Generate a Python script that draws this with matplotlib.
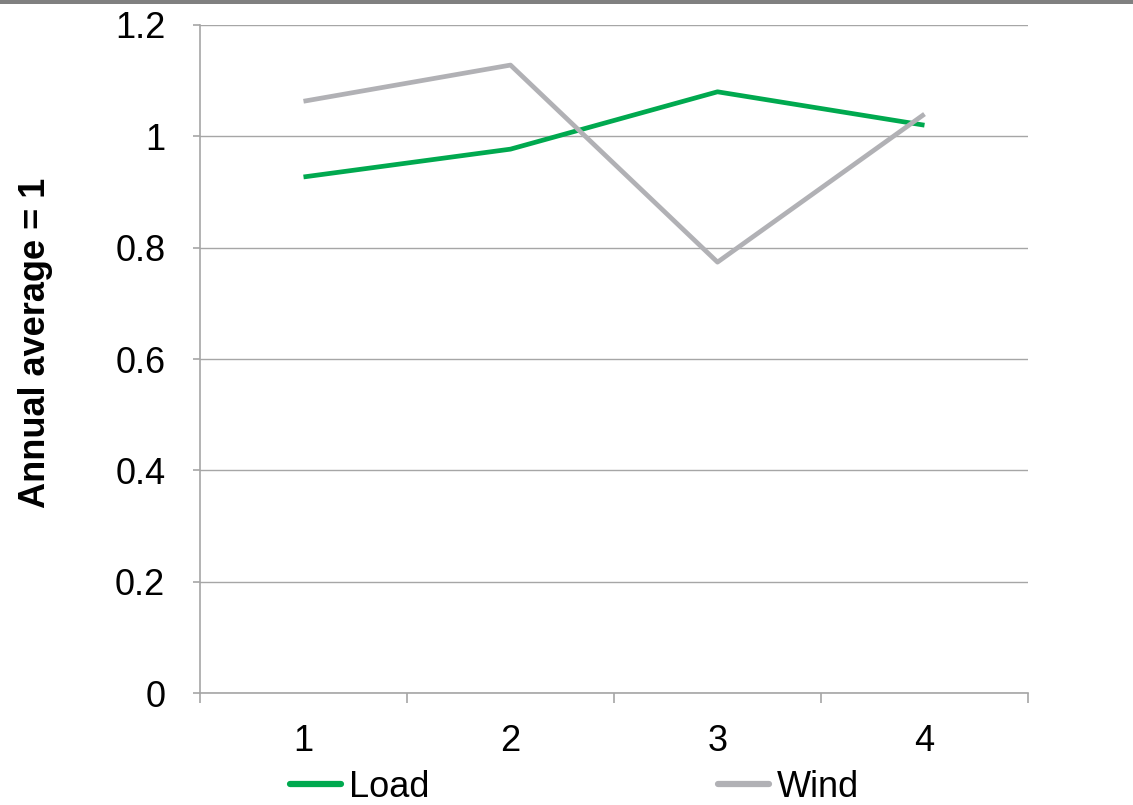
import matplotlib
matplotlib.use("Agg")
import matplotlib.pyplot as plt
from matplotlib.patches import Rectangle
from matplotlib.ticker import FixedLocator

categories = ["1", "2", "3", "4"]
load = [0.927, 0.977, 1.080, 1.020]
wind = [1.063, 1.128, 0.774, 1.040]
yticks = [0, 0.2, 0.4, 0.6, 0.8, 1.0, 1.2]
ytick_labels = ["0", "0.2", "0.4", "0.6", "0.8", "1", "1.2"]

plt.rcParams["font.family"] = ["Liberation Sans", "DejaVu Sans"]

W, H = 1133, 805
fig = plt.figure(figsize=(W / 100, H / 100), dpi=100)
fig.patches.append(Rectangle((0, 1 - 4 / H), 1, 4 / H, transform=fig.transFigure,
                             facecolor="#808080", edgecolor="none"))

ax = fig.add_axes([200 / W, (H - 693) / H, 828 / W, 668 / H])
x = list(range(1, len(categories) + 1))
ax.plot(x, load, color="#00A94F", lw=3.4, label="Load", solid_capstyle="butt")
ax.plot(x, wind, color="#B1B1B5", lw=3.4, label="Wind", solid_capstyle="butt")

ax.set_xlim(0.5, len(categories) + 0.5)
ax.set_ylim(0, 1.2)
ax.set_yticks(yticks)
ax.set_yticklabels(ytick_labels)
ax.set_xticks(x)
ax.set_xticklabels(categories)
ax.xaxis.set_minor_locator(FixedLocator([i + 0.5 for i in range(0, len(categories) + 1)]))

ax.grid(axis="y", color="#A6A6A6", lw=1)
ax.set_axisbelow(True)
for s in ["top", "right"]:
    ax.spines[s].set_visible(False)
for s in ["left", "bottom"]:
    ax.spines[s].set_color("#A6A6A6")
    ax.spines[s].set_linewidth(1.2)

ax.tick_params(axis="y", length=5, width=1.2, color="#A6A6A6", pad=20, labelsize=26)
ax.tick_params(axis="x", which="major", length=0, pad=22, labelsize=26)
ax.tick_params(axis="x", which="minor", length=7, width=1.2, color="#A6A6A6")

ax.set_ylabel("Annual average = 1", fontsize=26, fontweight="bold")
ax.yaxis.set_label_coords(-0.1775, 0.524)

leg = fig.legend(loc="lower left", bbox_to_anchor=(276 / W, -14 / H), ncol=2, frameon=False,
                 fontsize=26, handlelength=1.4, handletextpad=0.22, columnspacing=8.0,
                 borderaxespad=0)
for h in leg.legend_handles:
    h.set_linewidth(4.5)
    h.set_solid_capstyle("round")

fig.savefig("out.png", dpi=100)
